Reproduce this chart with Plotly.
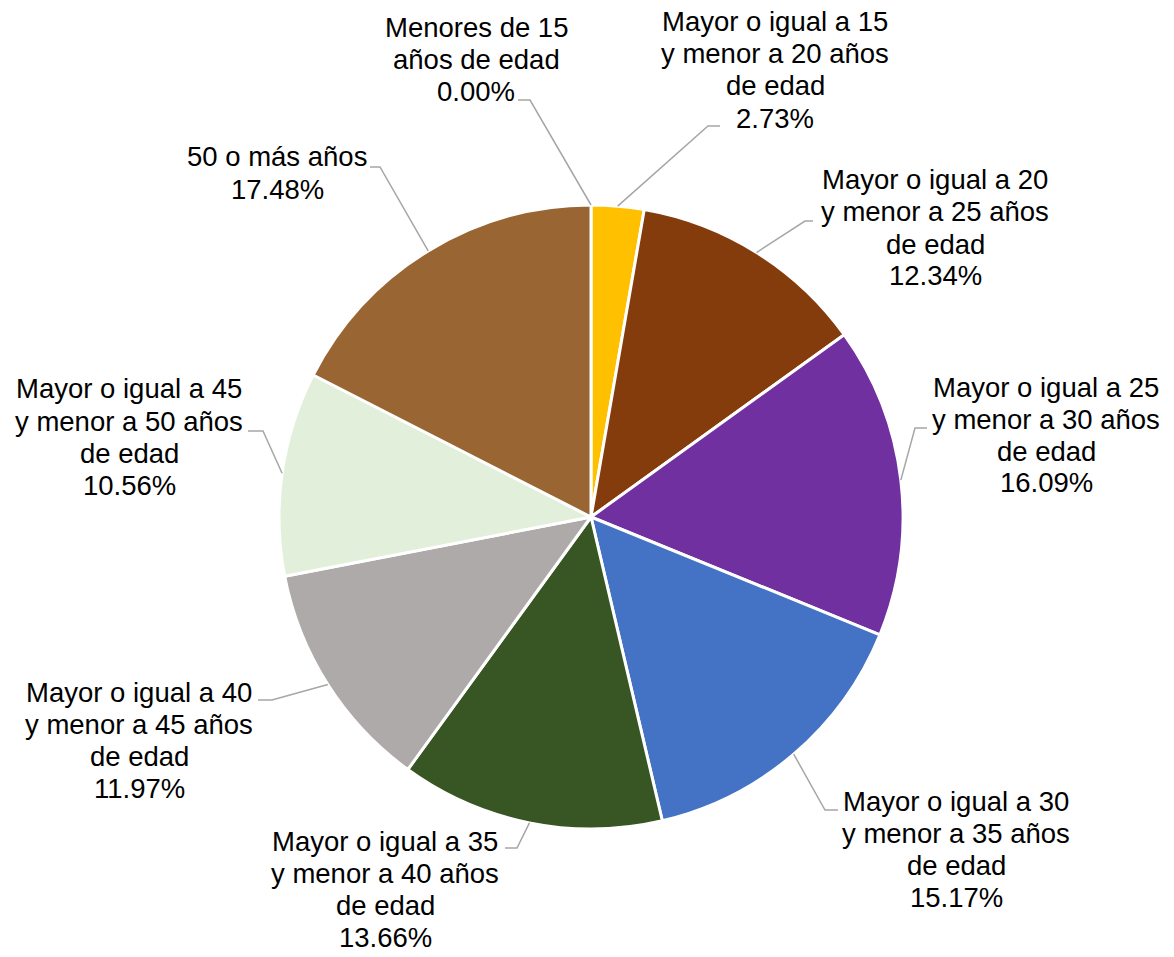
import math
import plotly.graph_objects as go

# ---- data ----
categories = [
    "Menores de 15 años de edad",
    "Mayor o igual a 15 y menor a 20 años de edad",
    "Mayor o igual a 20 y menor a 25 años de edad",
    "Mayor o igual a 25 y menor a 30 años de edad",
    "Mayor o igual a 30 y menor a 35 años de edad",
    "Mayor o igual a 35 y menor a 40 años de edad",
    "Mayor o igual a 40 y menor a 45 años de edad",
    "Mayor o igual a 45 y menor a 50 años de edad",
    "50 o más años",
]
label_lines = [
    ["Menores de 15", "años de edad"],
    ["Mayor o igual a 15", "y menor a 20 años", "de edad"],
    ["Mayor o igual a 20", "y menor a 25 años", "de edad"],
    ["Mayor o igual a 25", "y menor a 30 años", "de edad"],
    ["Mayor o igual a 30", "y menor a 35 años", "de edad"],
    ["Mayor o igual a 35", "y menor a 40 años", "de edad"],
    ["Mayor o igual a 40", "y menor a 45 años", "de edad"],
    ["Mayor o igual a 45", "y menor a 50 años", "de edad"],
    ["50 o más años"],
]
values = [0.00, 2.73, 12.34, 16.09, 15.17, 13.66, 11.97, 10.56, 17.48]
colors = ["#5B9BD5", "#FFC000", "#843C0C", "#7030A0", "#4472C4",
          "#375623", "#AEAAAA", "#E2EFDA", "#996633"]

# ---- layout (pixels) ----
W, H = 1174, 957
CX, CY, R = 591, 517, 312
label_centers = [(476, 59), (775, 70), (935, 228), (1046, 435), (956, 849),
                 (385, 889), (139, 740), (129, 437), (277, 173)]
leader_elbows = [(530, 100), (708, 126), (805, 221), (915, 428), (825, 810),
                 (517, 848), (272, 700), (263, 431), (380, 167)]
leader_ends = [(518, 100), (720, 126), (813, 221), (927, 428), (838, 810),
               (505, 848), (258, 700), (248, 431), (370, 167)]
LINE_PITCH = 32
FONT = "Liberation Sans, Arial, sans-serif"


def px(x):
    return x / W


def py(y):
    return 1 - y / H


fig = go.Figure()
fig.add_trace(go.Pie(
    labels=categories,
    values=values,
    sort=False,
    direction="clockwise",
    rotation=0,
    marker=dict(colors=colors, line=dict(color="white", width=3)),
    textinfo="none",
    hoverinfo="label+percent",
    showlegend=False,
    domain=dict(x=[px(CX - R), px(CX + R)], y=[py(CY + R), py(CY - R)]),
))

total = sum(values)
cum = 0.0
annotations = []
shapes = []
for i, v in enumerate(values):
    mid = (cum + v / 2) / total * 2 * math.pi
    cum += v
    sx = CX + R * math.sin(mid)
    sy = CY - R * math.cos(mid)
    ex, ey = leader_elbows[i]
    tx, ty = leader_ends[i]
    path = f"M {px(sx)},{py(sy)} L {px(ex)},{py(ey)} L {px(tx)},{py(ty)}"
    shapes.append(dict(type="path", xref="paper", yref="paper", path=path,
                       line=dict(color="#A6A6A6", width=1.5)))
    lines = label_lines[i] + [f"{v:.2f}%"]
    cx, cy = label_centers[i]
    n = len(lines)
    for j, t in enumerate(lines):
        yy = cy + (j - (n - 1) / 2) * LINE_PITCH
        annotations.append(dict(
            x=px(cx), y=py(yy), xref="paper", yref="paper",
            text=t, showarrow=False, xanchor="center", yanchor="middle",
            font=dict(family=FONT, size=27.5, color="#000000"),
        ))

fig.update_layout(
    width=W, height=H,
    margin=dict(l=0, r=0, t=0, b=0),
    paper_bgcolor="white",
    plot_bgcolor="white",
    annotations=annotations,
    shapes=shapes,
)

fig.write_html("out.html",
               config={"displayModeBar": False},
               post_script="document.body.style.margin='0';document.body.style.padding='0';")
